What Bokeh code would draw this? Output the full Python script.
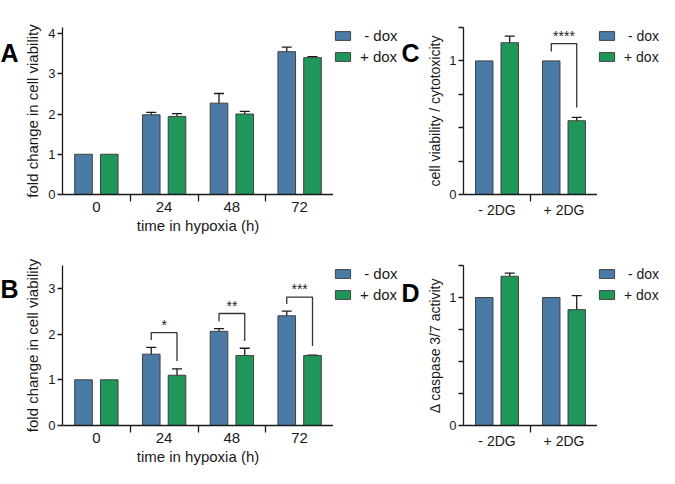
import numpy as np
from bokeh.plotting import figure
from bokeh.models import (Range1d, FixedTicker, Whisker, TeeHead, ColumnDataSource,
                          Legend, LegendItem)
from bokeh.layouts import row, column
from bokeh.embed import file_html
from bokeh.resources import INLINE
from bokeh.core.properties import value

# ---------------- data ----------------
timepoints = ["0", "24", "48", "72"]
treatments = ["- 2DG", "+ 2DG"]
panel_letters = ["A", "B", "C", "D"]
series_names = ["\u00a0- dox", "+ dox"]

A_minus = [1.0, 1.98, 2.27, 3.55]
A_minus_err = [0.0, 0.06, 0.24, 0.11]
A_plus = [1.0, 1.94, 2.00, 3.40]
A_plus_err = [0.0, 0.07, 0.065, 0.025]

B_minus = [1.0, 1.56, 2.06, 2.40]
B_minus_err = [0.0, 0.15, 0.06, 0.10]
B_plus = [1.0, 1.10, 1.53, 1.53]
B_plus_err = [0.0, 0.14, 0.16, 0.01]
B_sig_idx = [1, 2, 3]
B_sig_top = [2.03, 2.45, 2.81]
B_sig_left = [1.87, 2.28, 2.66]
B_sig_right = [1.41, 1.85, 1.74]
B_sig_text = ["*", "**", "***"]

C_minus = [1.0, 1.0]
C_minus_err = [0.0, 0.0]
C_plus = [1.136, 0.552]
C_plus_err = [0.05, 0.026]
C_sig_idx = [1]
C_sig_top = [1.13]
C_sig_left = [1.07]
C_sig_right = [0.652]
C_sig_text = ["****"]

D_minus = [1.0, 1.0]
D_minus_err = [0.0, 0.0]
D_plus = [1.166, 0.905]
D_plus_err = [0.025, 0.11]

# ---------------- style ----------------
FONT = "Liberation Sans"
BLUE = "#4a7ba7"
GREEN = "#1f965a"
EDGE = "#404040"
INK = "#1a1a1a"
OFF = 0.19
BW = 0.26
F = 168  # frame height
BB = 41
BT1 = 27
BT2 = 22
H1 = BT1 + F + BB
H2 = BT2 + F + BB


def blank_fig(width, height, top=0):
    p = figure(width=width, height=height, x_range=Range1d(0, 1), y_range=Range1d(0, 1),
               x_axis_type=None, y_axis_type=None, min_border=0, min_border_top=top,
               output_backend="svg", toolbar_location=None, outline_line_color=None,
               background_fill_color="white", border_fill_color="white")
    return p


def letter_fig(letter, width, height, dx, baseline):
    p = blank_fig(width, height)
    p.text(x=[0], y=[1], text=[letter], text_align="left", text_baseline="alphabetic",
           text_font=value(FONT), text_font_size="25px", text_font_style="bold",
           text_color="black", x_offset=dx, y_offset=baseline)
    return p


def legend_fig(width, height, top, font_size):
    p = blank_fig(width, height, top)
    # swatch renderers: their single point lies outside the visible range
    rb = p.vbar(x="x", top="top", bottom=0, width=0.1,
                source=ColumnDataSource(dict(x=[5.0], top=[0.5])),
                fill_color=BLUE, line_color=EDGE, line_width=1)
    rg = p.vbar(x="x", top="top", bottom=0, width=0.1,
                source=ColumnDataSource(dict(x=[5.0], top=[0.5])),
                fill_color=GREEN, line_color=EDGE, line_width=1)
    legend = Legend(items=[LegendItem(label=series_names[0], renderers=[rb]),
                           LegendItem(label=series_names[1], renderers=[rg])],
                    location="top_left", orientation="vertical",
                    glyph_width=19, glyph_height=11, label_standoff=8, spacing=4,
                    padding=0, margin=0, label_height=17,
                    label_text_font=FONT, label_text_font_size=font_size,
                    label_text_color=INK, border_line_color=None, background_fill_alpha=0)
    p.add_layout(legend)
    return p


def panel(cats, minus, minus_err, plus, plus_err, ymax, yticks, yminor, ylabel, xlabel,
          width, bl, bt, ylabel_standoff, label_size, xtick_size, one_sided=False, sig=None):
    n = len(cats)
    p = figure(width=width, height=bt + F + BB, x_range=Range1d(0, n), y_range=Range1d(0, ymax),
               output_backend="svg", toolbar_location=None,
               min_border_left=bl, min_border_right=0, min_border_top=bt, min_border_bottom=BB,
               outline_line_color=None, background_fill_color="white", border_fill_color="white")
    p.grid.visible = False
    centers = np.arange(n) + 0.5

    src_m = ColumnDataSource(dict(x=centers - OFF, top=minus))
    src_p = ColumnDataSource(dict(x=centers + OFF, top=plus))
    p.vbar(x="x", top="top", bottom=0, width=BW, source=src_m,
           fill_color=BLUE, line_color=EDGE, line_width=1)
    p.vbar(x="x", top="top", bottom=0, width=BW, source=src_p,
           fill_color=GREEN, line_color=EDGE, line_width=1)

    # error bars
    for xs, vals, errs in ((centers - OFF, minus, minus_err), (centers + OFF, plus, plus_err)):
        keep = [i for i in range(n) if errs[i] > 0]
        if not keep:
            continue
        up = [vals[i] + errs[i] for i in keep]
        lo = [vals[i] if one_sided else vals[i] - errs[i] for i in keep]
        src = ColumnDataSource(dict(x=[xs[i] for i in keep], upper=up, lower=lo))
        w = Whisker(base="x", upper="upper", lower="lower", source=src,
                    line_color=INK, line_width=1.3,
                    upper_head=TeeHead(size=10, line_color=INK, line_width=1.3),
                    lower_head=None if one_sided else TeeHead(size=10, line_color=INK, line_width=1.3))
        p.add_layout(w)

    # significance brackets
    if sig is not None:
        idx, tops, lefts, rights, texts = sig
        xs = [[centers[i] - OFF, centers[i] - OFF, centers[i] + OFF, centers[i] + OFF] for i in idx]
        ys = [[l, t, t, r] for t, l, r in zip(tops, lefts, rights)]
        p.multi_line(xs=xs, ys=ys, line_color="#333333", line_width=1.3)
        p.text(x=[centers[i] for i in idx], y=tops, text=texts, text_align="center",
               text_baseline="bottom", text_font=value(FONT), text_font_size="14px",
               text_color="#222222")

    # x axis
    xa = p.xaxis[0]
    xa.ticker = FixedTicker(ticks=list(centers), minor_ticks=list(np.arange(1, n)))
    xa.major_label_overrides = {float(c): cat for c, cat in zip(centers, cats)}
    xa.major_tick_line_color = None
    xa.major_tick_out = 5
    xa.major_tick_in = 0
    xa.minor_tick_line_color = INK
    xa.minor_tick_line_width = 1.3
    xa.minor_tick_out = 7
    xa.minor_tick_in = 0
    xa.axis_line_color = INK
    xa.axis_line_width = 1.3
    xa.major_label_standoff = 0
    xa.major_label_text_font = FONT
    xa.major_label_text_font_size = xtick_size
    xa.major_label_text_color = INK
    xa.axis_label = xlabel
    xa.axis_label_standoff = 2
    xa.axis_label_text_font = FONT
    xa.axis_label_text_font_size = label_size
    xa.axis_label_text_font_style = "normal"
    xa.axis_label_text_color = INK

    # y axis
    ya = p.yaxis[0]
    ya.ticker = FixedTicker(ticks=yticks, minor_ticks=yminor)
    ya.major_tick_out = 5
    ya.major_tick_in = 0
    ya.major_tick_line_color = INK
    ya.major_tick_line_width = 1.3
    ya.minor_tick_out = 5
    ya.minor_tick_in = 0
    ya.minor_tick_line_color = INK if yminor else None
    ya.minor_tick_line_width = 1.3
    ya.axis_line_color = INK
    ya.axis_line_width = 1.3
    ya.major_label_standoff = 2
    ya.major_label_text_font = FONT
    ya.major_label_text_font_size = "13px"
    ya.major_label_text_color = INK
    ya.axis_label = ylabel
    ya.axis_label_standoff = ylabel_standoff
    ya.axis_label_text_font = FONT
    ya.axis_label_text_font_size = label_size
    ya.axis_label_text_font_style = "normal"
    ya.axis_label_text_color = INK
    return p


pA = panel(timepoints, A_minus, A_minus_err, A_plus, A_plus_err, 4.15, [0, 1, 2, 3, 4], [],
           "fold change in cell viability", "time in hypoxia (h)",
           width=313, bl=42, bt=BT1, ylabel_standoff=4, label_size="15px", xtick_size="15px")
pB = panel(timepoints, B_minus, B_minus_err, B_plus, B_plus_err, 3.5, [0, 1, 2, 3], [],
           "fold change in cell viability", "time in hypoxia (h)",
           width=313, bl=42, bt=BT2, ylabel_standoff=4, label_size="15px", xtick_size="15px",
           sig=(B_sig_idx, B_sig_top, B_sig_left, B_sig_right, B_sig_text))
pC = panel(treatments, C_minus, C_minus_err, C_plus, C_plus_err, 1.25, [0, 1], [0.25, 0.5, 0.75, 1.25],
           "cell viability / cytotoxicity", "",
           width=173, bl=38, bt=BT1, ylabel_standoff=3, label_size="14px", xtick_size="14px",
           sig=(C_sig_idx, C_sig_top, C_sig_left, C_sig_right, C_sig_text))
pD = panel(treatments, D_minus, D_minus_err, D_plus, D_plus_err, 1.25, [0, 1], [0.25, 0.5, 0.75, 1.25],
           "\u0394 caspase 3/7 activity", "",
           width=173, bl=38, bt=BT2, ylabel_standoff=3, label_size="14px", xtick_size="14px",
           one_sided=True)

lA = letter_fig(panel_letters[0], 20, H1, 0, 25)
lB = letter_fig(panel_letters[1], 20, H2, 0, 23)
lC = letter_fig(panel_letters[2], 25, H1, 2, 25)
lD = letter_fig(panel_letters[3], 25, H2, 2, 27)

gA = legend_fig(66, H1, 21, "15px")
gB = legend_fig(66, H2, 29, "15px")
gC = legend_fig(62, H1, 21, "14px")
gD = legend_fig(62, H2, 29, "14px")

layout = column(row(lA, pA, gA, lC, pC, gC), row(lB, pB, gB, lD, pD, gD))
open("out.html", "w").write(file_html(layout, INLINE))
